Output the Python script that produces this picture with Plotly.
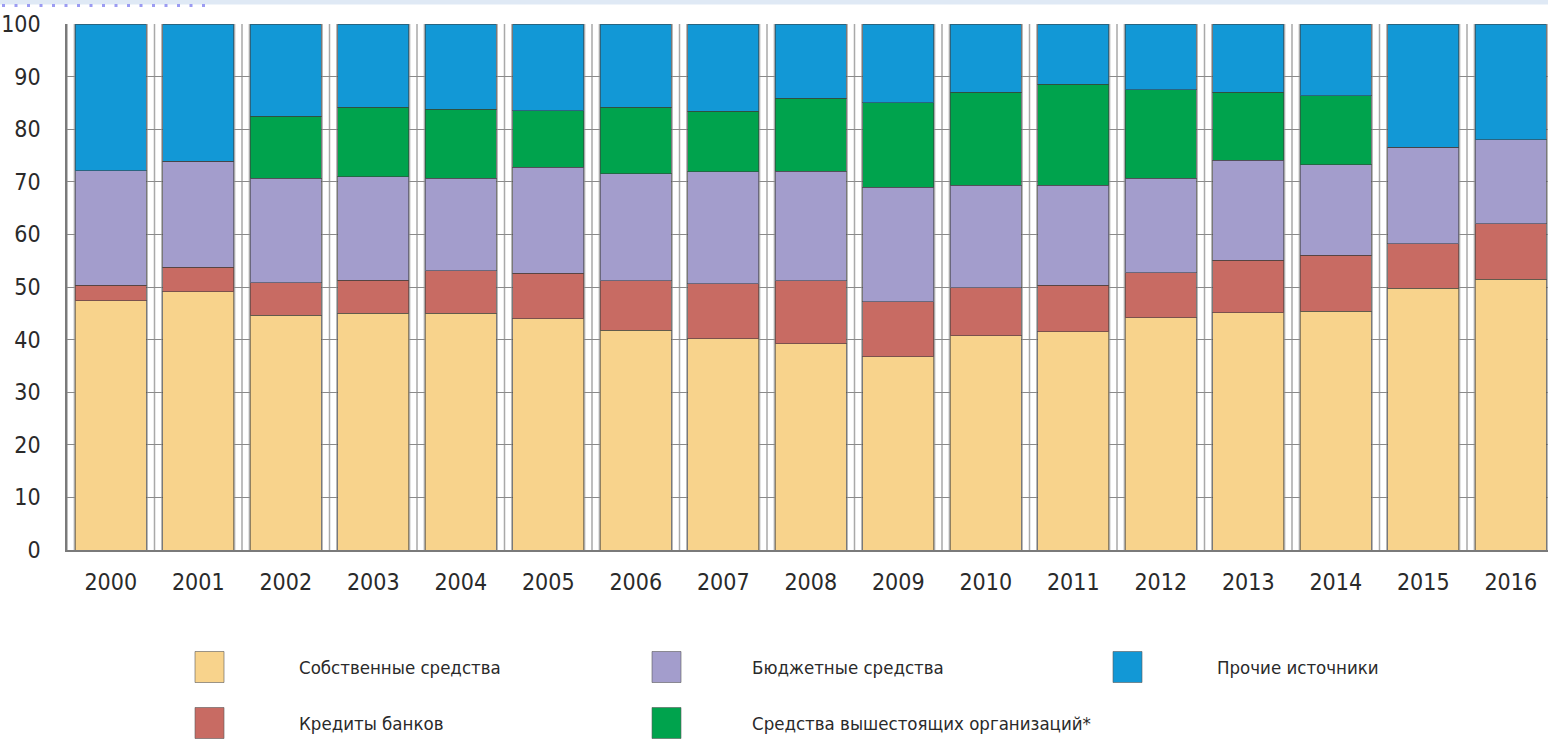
import plotly.graph_objects as go

# Structure of investment financing sources, % of total
years = ["2000", "2001", "2002", "2003", "2004", "2005", "2006", "2007", "2008",
         "2009", "2010", "2011", "2012", "2013", "2014", "2015", "2016"]

own_funds = [47.4, 49.1, 44.6, 45.0, 45.0, 44.0, 41.8, 40.2, 39.2,
             36.7, 40.7, 41.5, 44.2, 45.1, 45.4, 49.8, 51.5]
bank_loans = [2.9, 4.7, 6.2, 6.3, 8.1, 8.6, 9.4, 10.4, 12.0,
              10.5, 9.2, 8.8, 8.5, 10.0, 10.6, 8.4, 10.5]
budget_funds = [21.8, 20.1, 19.9, 19.7, 17.6, 20.2, 20.3, 21.3, 20.8,
                21.8, 19.4, 19.0, 18.0, 19.0, 17.2, 18.4, 16.0]
parent_org_funds = [0.0, 0.0, 11.8, 13.2, 13.1, 10.7, 12.7, 11.5, 13.9,
                    16.0, 17.7, 19.2, 16.8, 12.9, 13.2, 0.0, 0.0]
other_sources = [27.9, 26.1, 17.5, 15.8, 16.2, 16.5, 15.8, 16.6, 14.1,
                 15.0, 13.0, 11.5, 12.5, 13.0, 13.6, 23.4, 22.0]

series_names = ["Собственные средства", "Кредиты банков", "Бюджетные средства",
                "Средства вышестоящих организаций*", "Прочие источники"]
series_values = [own_funds, bank_loans, budget_funds, parent_org_funds, other_sources]
series_colors = ["#f8d38c", "#c86b63", "#a39dcc", "#00a34d", "#1298d6"]

y_ticks = [0, 10, 20, 30, 40, 50, 60, 70, 80, 90, 100]

FONT = "Liberation Sans Narrow, Arial Narrow, DejaVu Sans Condensed, sans-serif"
W, H = 1548, 751
ML, MR, MT, MB = 67, 0, 24, 201
PW, PH = W - ML - MR, H - MT - MB
BARGAP = 0.19


def px(x):
    return (x - ML) / PW


def py(y):
    return (H - MB - y) / PH


fig = go.Figure()
for name, vals, col in zip(series_names, series_values, series_colors):
    fig.add_trace(go.Bar(
        x=years, y=vals, name=name,
        marker=dict(color=col, line=dict(color="rgba(60,60,60,0.55)", width=1)),
        showlegend=False,
    ))

shapes = []
# grey rails in the gaps between columns
for k in range(-1, len(years)):
    b = k + 0.5
    for off in (-0.085, 0.0, 0.085):
        shapes.append(dict(type="line", xref="x", yref="y", x0=b + off, x1=b + off,
                           y0=0, y1=100, layer="below",
                           line=dict(color="#a9a9a9", width=1.5)))

# thin band and dotted rule along the top edge of the page
shapes.append(dict(type="rect", xref="paper", yref="paper",
                   x0=px(0), x1=px(W), y0=py(0), y1=py(4.5),
                   fillcolor="#dfe9f5", line=dict(width=0), layer="below"))
shapes.append(dict(type="line", xref="paper", yref="paper",
                   x0=px(2), x1=px(214), y0=py(5.5), y1=py(5.5),
                   line=dict(color="#9c9cf2", width=3, dash="3px,9.5px")))

# legend: swatches and labels laid out in two rows
legend_layout = [
    (0, 195, 297, 667),
    (2, 652, 750, 667),
    (4, 1113, 1215, 667),
    (1, 195, 297, 723),
    (3, 652, 750, 723),
]
annotations = []
for idx, sx, tx, cy in legend_layout:
    shapes.append(dict(type="rect", xref="paper", yref="paper",
                       x0=px(sx), x1=px(sx + 29), y0=py(cy - 15.5), y1=py(cy + 15.5),
                       fillcolor=series_colors[idx],
                       line=dict(color="rgba(90,90,90,0.6)", width=1)))
    annotations.append(dict(xref="paper", yref="paper", x=px(tx), y=py(cy),
                            xanchor="left", yanchor="middle", showarrow=False,
                            text=series_names[idx],
                            font=dict(family=FONT, size=18.5, color="#2a2a2a")))

fig.update_layout(
    barmode="stack",
    bargap=BARGAP,
    width=W, height=H,
    margin=dict(l=ML, r=MR, t=MT, b=MB, pad=0),
    paper_bgcolor="white",
    plot_bgcolor="white",
    shapes=shapes,
    annotations=annotations,
    font=dict(family=FONT, color="#2a2a2a"),
)
fig.update_xaxes(
    type="category", range=[-0.5, -0.5 + PW / 87.5],
    showgrid=False, showline=True, linecolor="#7a7a7a", linewidth=1.5,
    ticks="", tickfont=dict(family=FONT, size=23, color="#2a2a2a"),
    ticklabelstandoff=11,
)
fig.update_yaxes(
    range=[0, 100], tickvals=y_ticks, ticktext=[str(v) for v in y_ticks],
    showgrid=True, gridcolor="#8a8a8a", gridwidth=1.2,
    showline=True, linecolor="#7a7a7a", linewidth=1.5,
    zeroline=False, ticks="", tickfont=dict(family=FONT, size=23, color="#2a2a2a"),
    ticklabelstandoff=20,
)

fig.write_html("out.html")
